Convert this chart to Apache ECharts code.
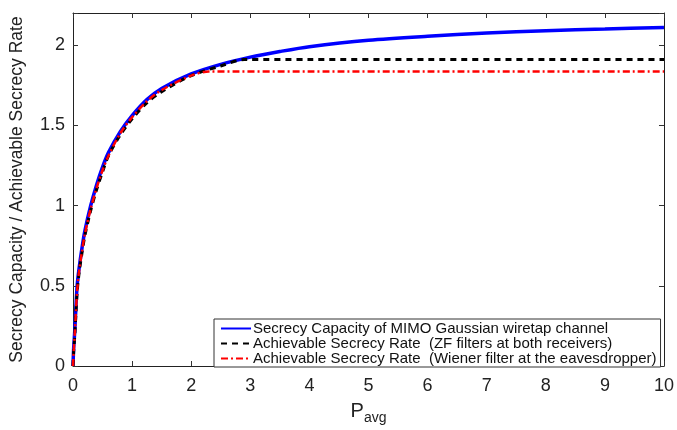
<!DOCTYPE html>
<html>
<head>
<meta charset="utf-8">
<script src="https://cdn.jsdelivr.net/npm/echarts@6/dist/echarts.min.js"></script>
<style>html,body{margin:0;padding:0;background:#fff}#c{width:677px;height:430px}</style>
</head>
<body>
<div id="c"></div>
<script>
const seriesNames = [
  'Secrecy Capacity of MIMO Gaussian wiretap channel',
  'Achievable Secrecy Rate  (ZF filters at both receivers)',
  'Achievable Secrecy Rate  (Wiener filter at the eavesdropper)'
];
const xCapacity = [0,0.01,0.03,0.05,0.07,0.1,0.15,0.2,0.3,0.4,0.5,0.6,0.8,1,1.25,1.5,2,2.5,3,3.5,4,5,6,7,8,9,10];
const yCapacity = [0,0.1,0.22,0.37,0.5,0.6,0.73,0.84,1.0,1.13,1.24,1.33,1.46,1.56,1.66,1.73,1.82,1.88,1.925,1.96,1.99,2.03,2.055,2.075,2.09,2.1,2.11];
const xZF = [0,0.01,0.03,0.05,0.07,0.1,0.15,0.2,0.3,0.4,0.5,0.6,0.8,1,1.25,1.5,2,2.5,2.9,4,6,8,10];
const yZF = [0,0.08,0.19,0.33,0.46,0.57,0.7,0.81,0.97,1.1,1.21,1.31,1.44,1.54,1.64,1.71,1.81,1.87,1.91,1.91,1.91,1.91,1.91];
const xWiener = [0,0.01,0.03,0.05,0.07,0.1,0.15,0.2,0.3,0.4,0.5,0.6,0.8,1,1.25,1.5,2,2.3,4,6,8,10];
const yWiener = [0,0.08,0.2,0.34,0.47,0.58,0.71,0.82,0.98,1.11,1.22,1.31,1.45,1.55,1.65,1.72,1.81,1.835,1.835,1.835,1.835,1.835];
const xTicks = [0,1,2,3,4,5,6,7,8,9,10];
const yTicks = [0,0.5,1,1.5,2];

const pairs = (xs, ys) => xs.map((x, i) => [x, ys[i]]);
const font = 'Liberation Sans, Arial, sans-serif';
const axisCommon = {
  type: 'value',
  axisLine: { show: true, onZero: false, lineStyle: { color: '#222', width: 1 } },
  axisTick: { show: true, inside: true, length: 5, lineStyle: { color: '#333' } },
  splitLine: { show: false }
};
const chart = echarts.init(document.getElementById('c'));
chart.setOption({
  animation: false,
  backgroundColor: '#fff',
  grid: { left: 73, right: 11, top: 13, bottom: 61 },
  legend: {
    orient: 'vertical', left: 214, top: 319,
    padding: [2, 4, 1, 6], itemGap: 0, itemWidth: 30, itemHeight: 14,
    borderColor: '#333', borderWidth: 1, backgroundColor: '#fff',
    itemStyle: { opacity: 0 },
    textStyle: { fontFamily: font, fontSize: 15, color: '#111', padding: [0, 0, 0, -3] },
    data: seriesNames
  },
  xAxis: [
    Object.assign({}, axisCommon, {
      min: 0, max: 10, interval: 1, position: 'bottom',
      axisLabel: { fontFamily: font, fontSize: 18, color: '#222', margin: 11,
        formatter: v => (xTicks.indexOf(v) >= 0 ? String(v) : '') },
      name: '{p|P}{s|avg}', nameLocation: 'middle', nameGap: 31,
      nameTextStyle: { rich: {
        p: { fontFamily: font, fontSize: 20, color: '#222' },
        s: { fontFamily: font, fontSize: 14, color: '#222', padding: [14, 0, 0, 0] }
      } }
    }),
    Object.assign({}, axisCommon, {
      min: 0, max: 10, interval: 1, position: 'top', axisLabel: { show: false }
    })
  ],
  yAxis: [
    Object.assign({}, axisCommon, {
      min: 0, max: 2.2, interval: 0.5, position: 'left',
      axisLabel: { fontFamily: font, fontSize: 18, color: '#222', margin: 8,
        formatter: v => (yTicks.indexOf(v) >= 0 ? String(v) : '') },
      name: 'Secrecy Capacity / Achievable Secrecy Rate', nameLocation: 'middle', nameGap: 47,
      nameTextStyle: { fontFamily: font, fontSize: 17.5, color: '#222' }
    }),
    Object.assign({}, axisCommon, {
      min: 0, max: 2.2, interval: 0.5, position: 'right', axisLabel: { show: false }
    })
  ],
  series: [
    { name: seriesNames[0], type: 'line', data: pairs(xCapacity, yCapacity), symbol: 'none',
      smooth: 0.3, z: 1,
      lineStyle: { color: '#0000ff', width: 3.5 }, itemStyle: { color: '#0000ff' } },
    { name: seriesNames[1], type: 'line', data: pairs(xZF, yZF), symbol: 'none',
      smooth: 0.3, z: 2,
      lineStyle: { color: '#000', width: 3, type: [6, 5] }, itemStyle: { color: '#000' } },
    { name: seriesNames[2], type: 'line', data: pairs(xWiener, yWiener), symbol: 'none',
      smooth: 0.3, z: 3,
      lineStyle: { color: '#ff0000', width: 2.5, type: [7, 3, 2, 3] }, itemStyle: { color: '#ff0000' } }
  ]
});
</script>
</body>
</html>
